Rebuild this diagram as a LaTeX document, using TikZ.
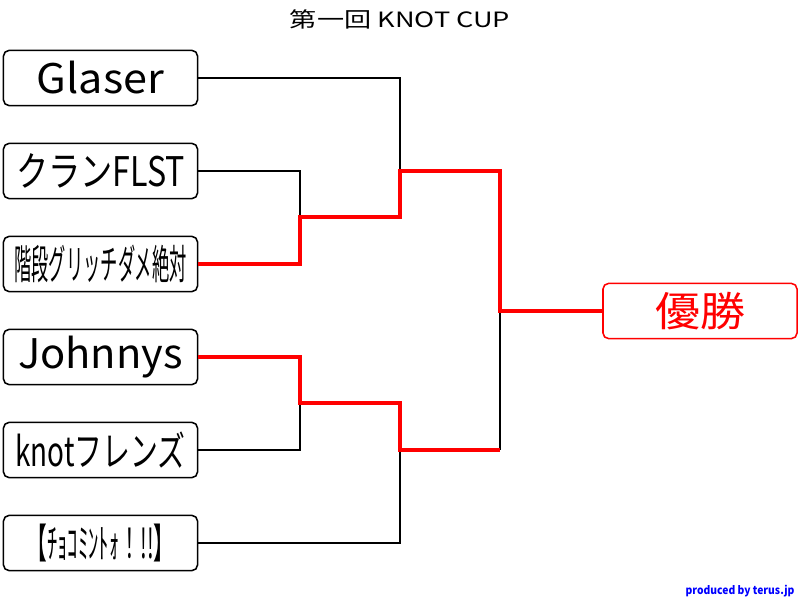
\documentclass[tikz,border=0pt]{standalone}
\usepackage{fontspec}
\setmainfont{Noto Sans CJK JP}
\newcommand{\squeeze}[2]{\resizebox{#1}{\height}{#2}}

\begin{document}
\begin{tikzpicture}%
	[
	x={(0.025cm, 0cm)},
	y={(0cm, -0.025cm)},
	team/.style={draw=black, line width=1.1pt, rounded corners=4pt, fill=white,
		minimum width=4.85cm, minimum height=1.38cm, inner sep=0pt,
		font=\fontsize{29}{29}\selectfont},
	champion/.style={team, draw=red, text=red},
	bracket/.style={color=black, line width=1.2pt},
	winner/.style={color=red, line width=2.6pt}]

\useasboundingbox (0,0) rectangle (800,600);

\node (title) at (400,19) {\fontsize{15}{15}\selectfont\squeeze{5.5cm}{第一回 KNOT CUP}};

\node[team] (glaser) at (100.5,78) {\squeeze{3.18cm}{Glaser}};
\node[team] (flst) at (100.5,171) {\squeeze{4.22cm}{クランFLST}};
\node[team] (kaidan) at (100.5,264) {\squeeze{4.3cm}{階段グリッチダメ絶対}};
\node[team] (johnnys) at (100.5,357) {\squeeze{4.12cm}{Johnnys}};
\node[team] (knot) at (100.5,450) {\squeeze{4.25cm}{knotフレンズ}};
\node[team] (choco) at (100.5,543) {\squeeze{3.7cm}{【ﾁｮｺﾐﾝﾄｫ！!!】}};
\node[champion] (yusho) at (700,311) {\squeeze{2.25cm}{優勝}};

\coordinate (a1) at (300,217);
\coordinate (a2) at (300,403);
\coordinate (b1) at (400,171);
\coordinate (b2) at (400,450);
\coordinate (c) at (500,311);

\draw[bracket] (glaser.east) -| (b1);
\draw[bracket] (flst.east) -| (a1);
\draw[bracket] (knot.east) -| (a2);
\draw[bracket] (choco.east) -| (b2);
\draw[bracket] (c) -- (c |- b2);

\draw[winner] (kaidan.east) -| (a1) -| (b1) -| (c) -- (yusho.west);
\draw[winner] (johnnys.east) -| (a2) -| (b2) -- (b2 -| c);

\node[text=blue, font=\bfseries\fontsize{8}{8}\selectfont] (credit) at (740,591) {\squeeze{2.72cm}{produced by terus.jp}};
\end{tikzpicture}
\end{document}
